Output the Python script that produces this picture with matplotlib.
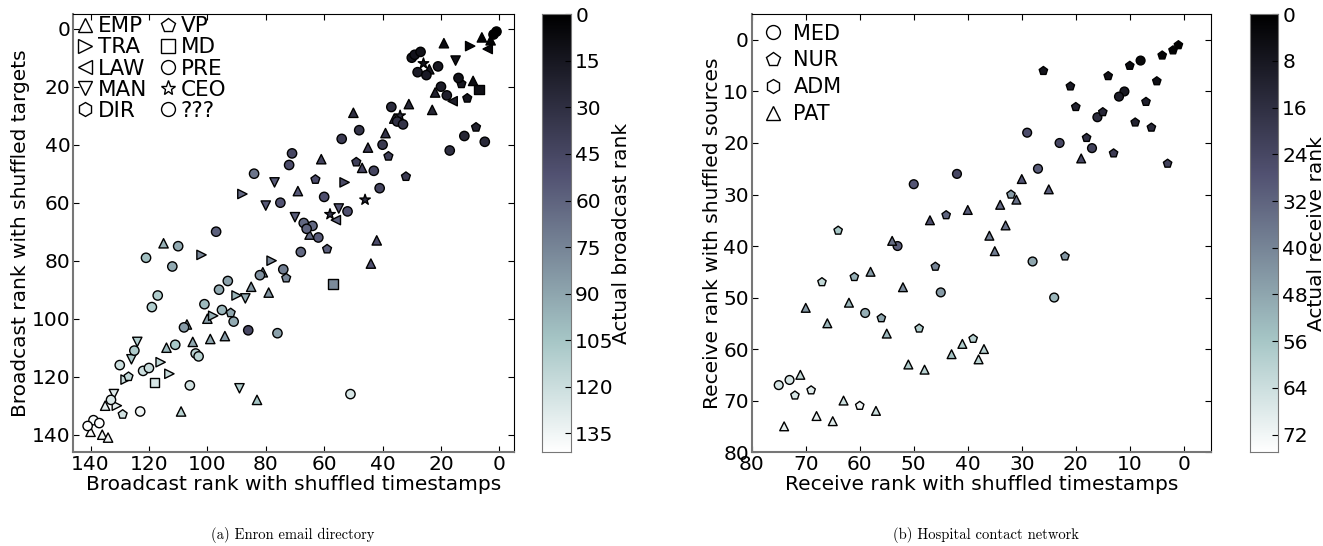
import numpy as np
import matplotlib
matplotlib.use("Agg")
import matplotlib.pyplot as plt
from matplotlib.colors import Normalize
from matplotlib.lines import Line2D

plt.rcParams['font.family'] = 'DejaVu Sans'
plt.rcParams['font.size'] = 14.5

# -----------------------------
# Enron data (rank with shuffled timestamps, rank with shuffled targets, actual rank, role)
# -----------------------------
enron_x = [1, 2, 6, 3, 4, 10, 19, 15, 30, 29, 27, 26, 28, 24, 25, 21, 14, 13, 9, 7,
           20, 18, 16, 11, 22, 23, 31, 37, 36, 35, 34, 33, 50, 48, 54, 39, 40, 45, 38, 8,
           12, 5, 17, 71, 61, 72, 49, 47, 43, 84, 32, 63, 53, 77, 69, 88, 60, 41, 46, 80,
           75, 55, 58, 52, 56, 70, 67, 64, 66, 65, 62, 97, 115, 110, 121, 102, 68, 59, 42, 44,
           57, 51, 112, 78, 74, 73, 82, 81, 93, 85, 96, 79, 117, 90, 87, 119, 101, 95, 92, 98,
           100, 91, 86, 76, 107, 108, 105, 99, 94, 124, 125, 126, 114, 111, 104, 103, 130, 116, 122, 120,
           127, 128, 118, 113, 106, 89, 83, 132, 133, 131, 135, 109, 129, 123, 139, 137, 141, 140, 136, 134]
enron_y = [1, 2, 3, 4, 7, 6, 5, 11, 10, 9, 8, 12, 15, 14, 16, 13, 17, 19, 18, 21,
           20, 23, 25, 24, 22, 28, 26, 27, 31, 32, 30, 33, 29, 35, 38, 36, 40, 41, 44, 34,
           37, 39, 42, 43, 45, 47, 46, 48, 49, 50, 51, 52, 53, 53, 56, 57, 58, 55, 59, 61,
           60, 62, 64, 63, 66, 65, 67, 68, 69, 71, 72, 70, 74, 75, 79, 78, 77, 76, 73, 81,
           88, 126, 82, 80, 83, 86, 85, 84, 87, 89, 90, 91, 92, 92, 93, 96, 95, 97, 98, 99,
           100, 101, 104, 105, 102, 103, 108, 107, 106, 108, 111, 114, 110, 109, 112, 113, 116, 115, 118, 117,
           120, 121, 122, 119, 123, 124, 128, 126, 128, 130, 130, 132, 133, 132, 135, 136, 137, 139, 140, 141]
enron_rank = [0, 1, 3, 2, 5, 4, 8, 10, 14, 12, 11, 13, 18, 16, 17, 15, 12, 15, 9, 10,
              18, 20, 19, 14, 22, 24, 26, 28, 30, 30, 28, 32, 30, 34, 38, 32, 36, 38, 40, 22,
              24, 26, 30, 45, 42, 48, 40, 42, 44, 68, 38, 48, 46, 55, 54, 62, 50, 44, 30, 55,
              52, 52, 35, 50, 58, 56, 62, 62, 60, 62, 56, 58, 95, 92, 102, 75, 62, 58, 48, 50,
              78, 125, 92, 76, 72, 76, 80, 78, 88, 82, 92, 82, 108, 96, 92, 110, 100, 98, 90, 95,
              88, 92, 45, 88, 88, 85, 90, 90, 85, 110, 108, 108, 100, 106, 112, 112, 120, 115, 120, 118,
              116, 118, 125, 118, 122, 110, 105, 128, 126, 130, 130, 112, 122, 135, 138, 140, 141, 139, 134, 136]
enron_role = ['???', '???', 'EMP', 'EMP', 'LAW', 'TRA', 'EMP', 'MAN', '???', '???',
              '???', 'CEO', '???', 'EMP', '???', '???', '???', 'VP', 'EMP', 'MD',
              '???', '???', 'LAW', 'VP', 'EMP', 'EMP', 'EMP', '???', 'EMP', '???',
              'CEO', '???', 'EMP', '???', '???', 'EMP', '???', 'EMP', 'VP', 'VP',
              '???', '???', '???', '???', 'EMP', '???', 'VP', 'EMP', '???', '???',
              'VP', 'VP', 'TRA', 'MAN', 'EMP', 'TRA', '???', '???', 'CEO', 'MAN',
              '???', 'MAN', 'CEO', '???', 'LAW', 'MAN', '???', '???', '???', 'EMP',
              '???', '???', 'EMP', '???', '???', 'TRA', '???', 'VP', 'EMP', 'EMP',
              'MD', '???', '???', 'TRA', '???', 'VP', '???', 'EMP', '???', 'EMP',
              '???', 'EMP', '???', 'TRA', 'MAN', '???', '???', '???', 'VP', 'TRA',
              'EMP', '???', '???', '???', 'EMP', '???', 'EMP', 'EMP', 'EMP', 'MAN',
              '???', 'MAN', 'EMP', '???', '???', '???', '???', 'TRA', '???', '???',
              'VP', 'TRA', 'MD', 'TRA', '???', 'MAN', 'EMP', 'MAN', '???', 'TRA',
              'EMP', 'EMP', 'VP', '???', '???', '???', '???', 'EMP', 'EMP', 'EMP']

enron_roles = ['EMP', 'TRA', 'LAW', 'MAN', 'DIR', 'VP', 'MD', 'PRE', 'CEO', '???']
enron_markers = ['^', '>', '<', 'v', 'h', 'p', 's', 'o', '*', 'o']

# -----------------------------
# Hospital data
# -----------------------------
hosp_x = [1, 2, 4, 8, 10, 14, 26, 5, 21, 11, 12, 7, 20, 15, 16, 9, 6, 29, 18, 23,
          17, 13, 19, 3, 27, 30, 25, 32, 31, 34, 40, 33, 36, 35, 28, 22, 24, 39, 41, 37,
          38, 42, 50, 44, 47, 64, 54, 53, 46, 45, 58, 67, 61, 52, 62, 70, 66, 59, 56, 55,
          49, 43, 51, 48, 75, 73, 71, 72, 69, 74, 68, 65, 63, 60, 57]
hosp_y = [1, 2, 3, 4, 5, 7, 6, 8, 9, 10, 11, 12, 13, 14, 15, 16, 17, 18, 19, 20,
          21, 22, 23, 24, 25, 27, 29, 30, 31, 32, 33, 36, 38, 41, 43, 42, 50, 58, 59, 60,
          62, 26, 28, 34, 35, 37, 39, 40, 44, 49, 45, 47, 46, 48, 51, 52, 55, 53, 54, 57,
          56, 61, 63, 64, 67, 66, 65, 69, 68, 75, 73, 74, 70, 71, 72]
hosp_rank = [0, 1, 2, 3, 4, 6, 7, 5, 9, 8, 10, 11, 12, 13, 15, 12, 14, 26, 16, 24,
             22, 20, 24, 22, 30, 28, 30, 45, 35, 33, 30, 36, 38, 38, 48, 44, 52, 60, 58, 60,
             60, 24, 28, 32, 26, 56, 34, 30, 40, 45, 45, 62, 50, 42, 52, 45, 52, 50, 48, 52,
             58, 55, 58, 60, 66, 66, 62, 66, 68, 70, 70, 68, 64, 72, 64]
hosp_role = ['NUR', 'NUR', 'NUR', 'MED', 'NUR', 'NUR', 'NUR', 'NUR', 'NUR', 'MED',
             'MED', 'NUR', 'NUR', 'NUR', 'MED', 'NUR', 'NUR', 'MED', 'NUR', 'MED',
             'MED', 'NUR', 'PAT', 'NUR', 'MED', 'PAT', 'PAT', 'NUR', 'PAT', 'PAT',
             'PAT', 'PAT', 'PAT', 'PAT', 'MED', 'NUR', 'MED', 'NUR', 'PAT', 'PAT',
             'PAT', 'MED', 'MED', 'NUR', 'PAT', 'NUR', 'PAT', 'MED', 'NUR', 'MED',
             'PAT', 'NUR', 'NUR', 'PAT', 'PAT', 'PAT', 'PAT', 'MED', 'NUR', 'PAT',
             'NUR', 'PAT', 'PAT', 'PAT', 'MED', 'MED', 'PAT', 'NUR', 'NUR', 'PAT',
             'PAT', 'PAT', 'PAT', 'NUR', 'PAT']

hosp_roles = ['MED', 'NUR', 'ADM', 'PAT']
hosp_markers = ['o', 'p', 'h', '^']


def draw_panel(ax, cax, xs, ys, ranks, roles, role_names, markers, vmax, lim,
               size, cb_ticks, labels, legend_kw):
    xs, ys, ranks = np.array(xs), np.array(ys), np.array(ranks)
    roles = np.array(roles)
    norm = Normalize(vmin=0, vmax=vmax)
    for name, m in zip(role_names, markers):
        sel = roles == name
        if not sel.any():
            continue
        s = size * 1.4 if m == '*' else size
        ax.scatter(xs[sel], ys[sel], c=ranks[sel], cmap='bone', norm=norm,
                   marker=m, s=s, edgecolors='black', linewidths=1.0, zorder=3)
    ax.set_xlim(lim, -5)
    ax.set_ylim(lim, -5)
    ax.set_xlabel(labels[0], labelpad=1)
    ax.set_ylabel(labels[1], labelpad=1)
    ax.tick_params(direction='in', top=True, right=True, length=4, pad=2)
    for side in ['left', 'bottom']:
        ax.spines[side].set_color('#777777')
        ax.spines[side].set_linewidth(1.5)

    handles = [Line2D([], [], marker=m, linestyle='none', markerfacecolor='white',
                      markeredgecolor='black', markersize=10 if m != '*' else 11)
               for m in markers]
    ax.legend(handles, role_names, loc='upper left', frameon=False, **legend_kw)

    # colour bar: 0 at the top (black), drawn as a gradient image
    grad = np.linspace(0, vmax, 256)[:, None]
    cax.imshow(grad, aspect='auto', cmap='bone', norm=norm, extent=[0, 1, vmax, 0])
    cax.set_xticks([])
    cax.yaxis.tick_right()
    cax.yaxis.set_label_position('right')
    cax.set_yticks(cb_ticks)
    cax.tick_params(axis='y', direction='in', length=4, pad=3)
    for sp in cax.spines.values():
        sp.set_color('#777777')
    cax.set_ylabel(labels[2], labelpad=-1)


fig = plt.figure(figsize=(13.23, 5.46), dpi=100)

ax1 = fig.add_axes([0.0552, 0.172, 0.3333, 0.802])
cax1 = fig.add_axes([0.4097, 0.172, 0.0219, 0.802])
ax2 = fig.add_axes([0.5682, 0.172, 0.347, 0.802])
cax2 = fig.add_axes([0.9448, 0.172, 0.0212, 0.802])

draw_panel(ax1, cax1, enron_x, enron_y, enron_rank, enron_role, enron_roles, enron_markers,
           141, 146, 45, list(range(0, 136, 15)),
           ['Broadcast rank with shuffled timestamps', 'Broadcast rank with shuffled targets',
            'Actual broadcast rank'],
           dict(ncol=2, borderaxespad=0.1, handlelength=0.9, handletextpad=0.15,
                labelspacing=0.05, columnspacing=0.5, borderpad=0.0, fontsize=15.5))
ax1.set_xticks(range(0, 141, 20))
ax1.set_yticks(range(0, 141, 20))

draw_panel(ax2, cax2, hosp_x, hosp_y, hosp_rank, hosp_role, hosp_roles, hosp_markers,
           75, 80, 40, list(range(0, 73, 8)),
           ['Receive rank with shuffled timestamps', 'Receive rank with shuffled sources',
            'Actual receive rank'],
           dict(ncol=1, borderaxespad=0.3, handlelength=1.1, handletextpad=0.45,
                labelspacing=0.33, borderpad=0.15, fontsize=15))
ax2.set_xticks(range(0, 81, 10))
ax2.set_yticks(range(0, 81, 10))

fig.text(0.2215, 0.02, '(a) Enron email directory', ha='center', va='center',
         family='cmr10', fontsize=10.5)
fig.text(0.745, 0.02, '(b) Hospital contact network', ha='center', va='center',
         family='cmr10', fontsize=10.5)

fig.savefig('out.png', dpi=100)
